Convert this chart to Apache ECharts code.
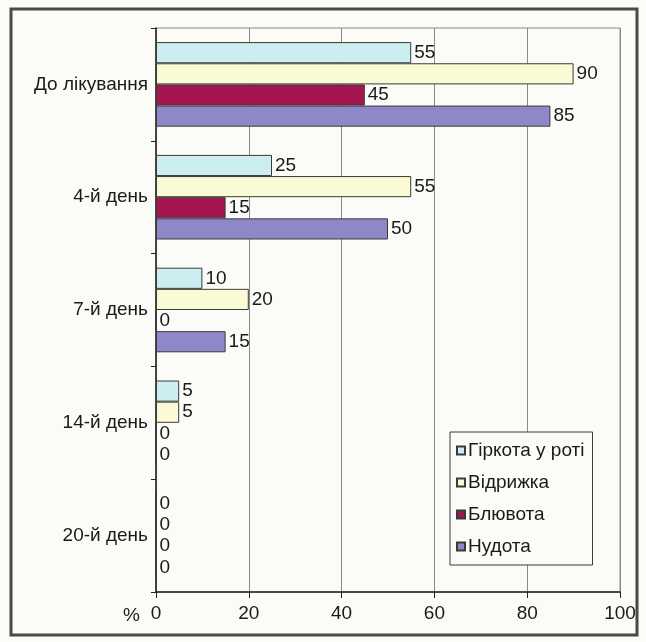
<!DOCTYPE html>
<html>
<head>
<meta charset="utf-8">
<script src="https://cdn.jsdelivr.net/npm/echarts@6/dist/echarts.min.js"></script>
<style>
  html, body { margin: 0; padding: 0; background: #fbfbf8; }
  #chart { width: 646px; height: 642px; }
</style>
</head>
<body>
<div id="chart"></div>
<script>
// періоди спостереження
const days = ['До лікування', '4-й день', '7-й день', '14-й день', '20-й день'];
const seriesNames = ['Гіркота у роті', 'Відрижка', 'Блювота', 'Нудота'];

// частота симптомів, %
const bitterness = [55, 25, 10, 5, 0];
const belching = [90, 55, 20, 5, 0];
const vomiting = [45, 15, 0, 0, 0];
const nausea = [85, 50, 15, 0, 0];

const xTicks = [0, 20, 40, 60, 80, 100];

const colors = ['#cdeef0', '#fafad4', '#a5154f', '#8e88c9'];
const font = '"Liberation Sans", Arial, sans-serif';

const chart = echarts.init(document.getElementById('chart'));

const values = [bitterness, belching, vomiting, nausea];

const series = seriesNames.map((name, i) => ({
  name,
  type: 'bar',
  data: values[i],
  barGap: '0%',
  barCategoryGap: '25%',
  itemStyle: { color: colors[i], borderColor: '#3a3a3a', borderWidth: 1 },
  label: {
    show: true,
    position: 'right',
    distance: 3,
    color: '#1a1a1a',
    fontSize: 19,
    fontFamily: font
  }
}));

chart.setOption({
  backgroundColor: '#fbfbf8',
  animation: false,
  graphic: [{
    type: 'rect',
    shape: { x: 11, y: 9, width: 626, height: 626 },
    style: { fill: 'none', stroke: '#4a4a40', lineWidth: 3 },
    z: 100
  }],
  grid: {
    left: 156,
    right: 26,
    top: 28,
    bottom: 50,
    show: true,
    borderColor: '#8a8a8a',
    borderWidth: 1
  },
  legend: {
    data: seriesNames,
    orient: 'vertical',
    left: 450,
    top: 432,
    width: 153,
    padding: [9, 8, 9, 6],
    itemWidth: 8,
    itemHeight: 8,
    itemGap: 13,
    icon: 'rect',
    borderColor: '#3a3a3a',
    borderWidth: 1,
    backgroundColor: '#fbfbf8',
    textStyle: { fontSize: 19, fontFamily: font, color: '#1a1a1a', padding: [0, 0, 0, -2] }
  },
  xAxis: {
    type: 'value',
    min: 0,
    max: 100,
    interval: 20,
    name: '%',
    nameLocation: 'start',
    nameGap: 16,
    nameTextStyle: { fontSize: 19, fontFamily: font, color: '#1a1a1a', verticalAlign: 'top', padding: [14, 0, 0, 0] },
    axisLine: { show: true, lineStyle: { color: '#222', width: 1.5 } },
    axisTick: { show: true, length: 6, lineStyle: { color: '#222' } },
    axisLabel: {
      margin: 12,
      fontSize: 19,
      fontFamily: font,
      color: '#1a1a1a',
      formatter: v => (xTicks.includes(v) ? String(v) : '')
    },
    splitLine: { show: true, lineStyle: { color: '#8a8a8a', width: 1 } }
  },
  yAxis: {
    type: 'category',
    data: days,
    inverse: true,
    axisLine: { show: true, lineStyle: { color: '#222', width: 1.5 } },
    axisTick: { show: true, length: 5, lineStyle: { color: '#222' } },
    axisLabel: { margin: 8, fontSize: 19, fontFamily: font, color: '#1a1a1a' }
  },
  series
});
</script>
</body>
</html>
